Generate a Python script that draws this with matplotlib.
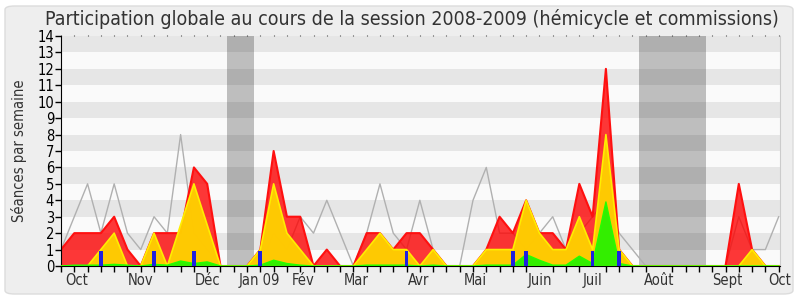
import matplotlib
matplotlib.use("Agg")
import matplotlib.pyplot as plt
from matplotlib.patches import FancyBboxPatch
import numpy as np

# Weekly values (weeks from end of Sept 2008 to early Oct 2009)
red = [1, 2, 2, 2, 3, 1, 0, 2, 2, 2, 6, 5, 0, 0, 0, 1, 7, 3, 3, 0, 1, 0, 0, 2, 2, 1, 2, 2,
       1, 0, 0, 0, 1, 3, 2, 4, 2, 2, 1, 5, 3, 12, 1, 0, 0, 0, 0, 0, 0, 0, 0, 5, 1, 0, 0]
yellow = [0, 0, 0, 1, 2, 0, 0, 2, 0, 2.5, 5, 2.5, 0, 0, 0, 1, 5, 2, 1, 0, 0, 0, 0, 1, 2, 1, 1, 0,
          1, 0, 0, 0, 1, 1, 1, 4, 2, 1, 1, 3, 1, 8, 1, 0, 0, 0, 0, 0, 0, 0, 0, 0, 1, 0, 0]
green = [0, 0.05, 0.05, 0.05, 0.1, 0.05, 0, 0.1, 0.05, 0.3, 0.15, 0.25, 0, 0, 0, 0.05, 0.35, 0.15,
         0.05, 0, 0, 0, 0, 0.05, 0.05, 0.05, 0.05, 0, 0.05, 0, 0, 0, 0.05, 0.05, 0.05, 0.7, 0.35,
         0.05, 0.05, 0.6, 0.15, 3.9, 0.15, 0, 0, 0, 0, 0, 0, 0, 0, 0, 0, 0, 0]
gray = [1, 3, 5, 2, 5, 2, 1, 3, 2, 8, 2, 1, 0, 0, 0, 0, 2, 1, 3, 2, 4, 2, 0, 2, 5, 2, 1, 4,
        1, 0, 0, 4, 6, 2, 2, 1, 2, 3, 1, 2, 3, 4, 2, 1, 0, 0, 0, 0, 0, 0, 0, 3, 1, 1, 3]
blue_weeks = [3, 7, 10, 15, 26, 34, 35, 40, 42]
blue_vals = [0.9, 0.9, 0.9, 0.9, 0.9, 0.9, 0.9, 0.9, 0.9]
vacations = [(12.5, 14.5), (43.5, 48.5)]
month_labels = ["Oct", "Nov", "Déc", "Jan 09", "Fév", "Mar", "Avr", "Mai", "Juin",
                "Juil", "Août", "Sept", "Oct"]
month_pos = [1.2, 5.95, 11.05, 14.9, 18.2, 22.2, 26.9, 31.2, 36.0, 40.0, 45.0, 50.1, 54.1]
title = "Participation globale au cours de la session 2008-2009 (hémicycle et commissions)"
ylabel = "Séances par semaine"

FONT = dict(family="DejaVu Sans", stretch="condensed")

weeks = np.arange(len(red))

fig = plt.figure(figsize=(8, 3), dpi=100, facecolor="white")
fig.patches.append(FancyBboxPatch((5 / 800, 6 / 300), 788 / 800, 288 / 300,
                                  boxstyle="round,pad=0,rounding_size=0.012",
                                  transform=fig.transFigure, facecolor="#eeeeee",
                                  edgecolor="#dcdcdc", linewidth=1, zorder=-10))
ax = fig.add_axes([61 / 800, 34 / 300, 719 / 800, 230 / 300])
ax.set_facecolor("#fafafa")
ax.set_xlim(0, 54)
ax.set_ylim(0, 14)

for i in range(14):
    ax.axhspan(i, i + 1, color="#fafafa" if i % 2 == 0 else "#e6e6e6", lw=0, zorder=0)
for a, b in vacations:
    ax.axvspan(a, b, color="black", alpha=0.24, lw=0, zorder=0.5)

ax.plot(weeks, gray, color="#b0b0b0", lw=1, zorder=1)
ax.fill_between(weeks, 0, red, facecolor="#ff0000", alpha=0.78, lw=0, zorder=2)
ax.plot(weeks, red, color="#ff1010", lw=1.5, zorder=2.1)
ax.fill_between(weeks, 0, yellow, facecolor="#ffd200", alpha=0.95, lw=0, zorder=3)
ax.plot(weeks, yellow, color="#ffee00", lw=1.2, zorder=3.1)
ax.fill_between(weeks, 0, green, facecolor="#33ee00", lw=0, zorder=4)
ax.plot(weeks, green, color="#22ff00", lw=1, zorder=4.1)
ax.bar(blue_weeks, blue_vals, width=0.28, color="#2020e0", zorder=5)

ax.spines["top"].set_visible(False)
ax.spines["right"].set_color("#cccccc")
ax.spines["left"].set_color("black")
ax.spines["bottom"].set_color("black")

ax.set_yticks(range(15))
ax.set_yticklabels([str(i) for i in range(15)], fontsize=10.5, **FONT)
ax.tick_params(axis="y", direction="out", length=4, width=1, pad=1, colors="black")

ax.set_xticks(month_pos)
ax.set_xticklabels(month_labels, fontsize=10.5, color="#333333", **FONT)
ax.set_xticks(weeks, minor=True)
ax.tick_params(axis="x", which="major", length=0, pad=5)
ax.tick_params(axis="x", which="minor", direction="out", length=4, width=1)

top = ax.secondary_xaxis("top")
top.set_xticks([])
top.set_xticks(weeks, minor=True)
top.tick_params(axis="x", which="minor", direction="out", length=1, width=0.8, colors="#444444")
top.tick_params(axis="x", which="major", length=0, labeltop=False)
top.spines["top"].set_visible(False)

ax.set_ylabel(ylabel, fontsize=10.5, color="#333333", labelpad=7, **FONT)
fig.text(412 / 800, 1 - 19 / 300, title, ha="center", va="center", fontsize=14,
         color="#333333", **FONT)

fig.savefig("out.png", dpi=100, facecolor=fig.get_facecolor())
